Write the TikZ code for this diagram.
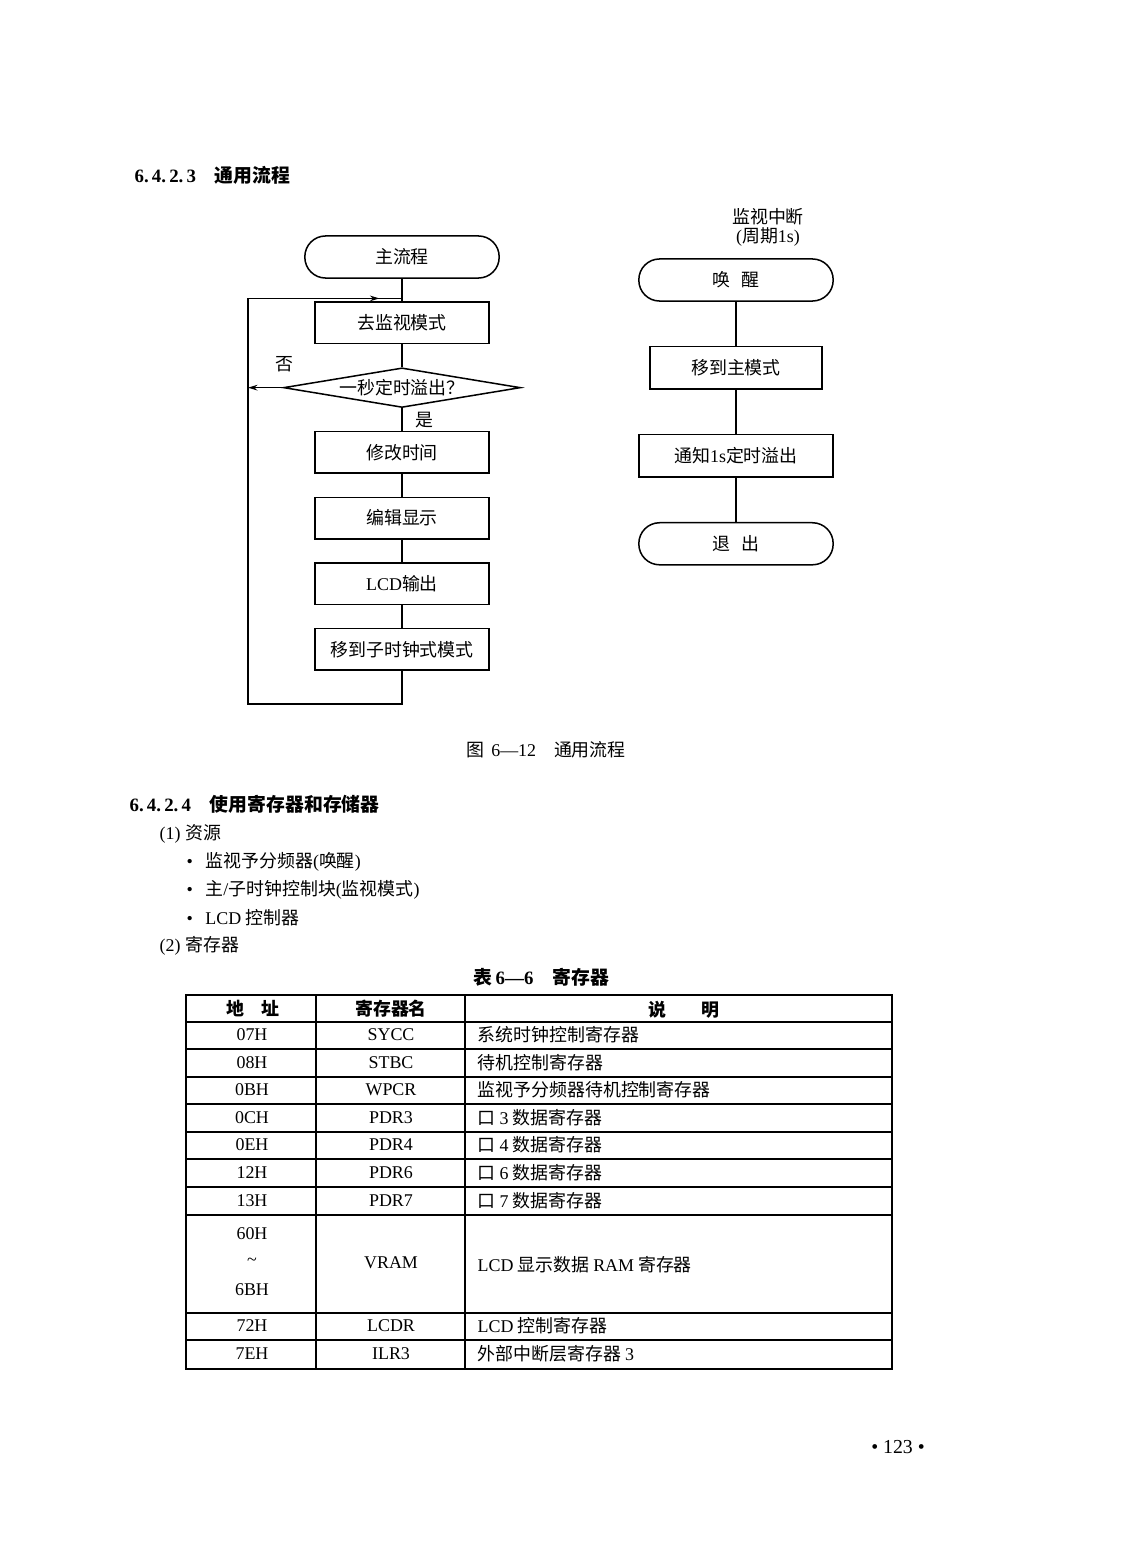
\documentclass[tikz,border=0pt]{standalone}
\usepackage{fontspec}
\setmainfont{Noto Sans CJK SC}
\newfontfamily\lat{Liberation Serif}
\usetikzlibrary{arrows.meta,positioning,shapes.geometric}
\newcommand\bodysize{\fontsize{9.5}{11}\selectfont}

\tikzset{
  stepbox/.style={draw, line width=0.8pt, minimum width=92pt, minimum height=22pt, inner sep=0pt},
  termbox/.style={draw, line width=0.8pt, rounded corners=11pt, minimum width=103pt, minimum height=22.3pt, inner sep=0pt},
  testbox/.style={draw, line width=0.8pt, diamond, aspect=6, minimum width=125.6pt, minimum height=21pt, inner sep=0pt},
  flow/.style={line width=0.8pt},
  tip/.style={flow, -{Stealth[length=5pt,width=3pt]}},
  head/.style={font=\fontsize{10}{12}\selectfont\bfseries},
  cell/.style={font=\bodysize\lat},
  rule/.style={line width=0.7pt},
}

\begin{document}
\begin{tikzpicture}[x=0.53pt, y=-0.53pt, font=\bodysize, node distance=12pt]
\useasboundingbox (0,0) rectangle (1122,1568);

% heading
\node[head, anchor=west] (sec3) at (128,175) {{\lat 6.\,4.\,2.\,3}\quad 通用流程};

% main flow
\node[termbox] (main) at (402,257) {主流程};
\node[stepbox, below=of main] (watch) {去监视模式};
\node[testbox, below=of watch] (chk) {一秒定时溢出？};
\node[stepbox, below=of chk] (fix) {修改时间};
\node[stepbox, below=of fix] (edit) {编辑显示};
\node[stepbox, below=of edit] (lcd) {{\lat LCD}输出};
\node[stepbox, below=of lcd] (sub) {移到子时钟式模式};
\node (no) at (284,364) {否};
\node (yes) at (424,420) {是};

\coordinate[above=1.6pt of watch] (join);
\coordinate[below=17.5pt of sub] (loopbot);
\coordinate (rail) at (248,0);

\draw[flow] (main) -- (watch);
\draw[flow] (watch) -- (chk);
\draw[flow] (chk) -- (fix);
\draw[flow] (fix) -- (edit);
\draw[flow] (edit) -- (lcd);
\draw[flow] (lcd) -- (sub);
\draw[tip] (sub.south) -- (loopbot) -| (rail |- join) -- ([xshift=-12pt]join);
\draw[flow] ([xshift=-13pt]join) -- (join);
\draw[tip] (chk.west) -- (rail |- chk.west);

% interrupt flow
\node[align=center, font=\fontsize{9.5}{10}\selectfont] (irq) at (768,227) {监视中断\\{\lat (}周期{\lat 1s)}};
\node[termbox] (wake) at (736,280) {唤\hspace{0.6em}醒};
\node[stepbox, minimum width=91pt, minimum height=22.3pt, below=23.4pt of wake] (tomain) {移到主模式};
\node[stepbox, minimum width=103pt, minimum height=22.6pt, below=23.4pt of tomain] (notify) {通知{\lat 1s}定时溢出};
\node[termbox, below=23.4pt of notify] (quit) {退\hspace{0.6em}出};
\draw[flow] (wake) -- (tomain);
\draw[flow] (tomain) -- (notify);
\draw[flow] (notify) -- (quit);

\node (cap) at (546,750) {图\hspace{0.4em}{\lat 6—12}\quad 通用流程};

% resources
\node[head, anchor=west] (sec4) at (123,804) {{\lat 6.\,4.\,2.\,4}\quad 使用寄存器和存储器};
\node[anchor=west] (res) at (153,834) {{\lat (1)}\hspace{0.3em}资源};
\node[anchor=west] (item1) at (180,862) {{\lat •}\hspace{0.7em}监视予分频器{\lat (}唤醒{\lat )}};
\node[anchor=west] (item2) at (180,890) {{\lat •}\hspace{0.7em}主{\lat /}子时钟控制块{\lat (}监视模式{\lat )}};
\node[anchor=west] (item3) at (180,918) {{\lat •}\hspace{0.7em}{\lat LCD} 控制器};
\node[anchor=west] (regs) at (153,946) {{\lat (2)}\hspace{0.3em}寄存器};

% table
\node[head] (tabcap) at (541,977) {表\hspace{0.2em}{\lat 6—6}\quad 寄存器};
\draw[line width=1.2pt] (186,995) rectangle (892,1369);
\foreach \yy in {1022,1049,1077,1104,1132,1159,1187,1215,1313,1340}
  \draw[rule] (186,\yy) -- (892,\yy);
\foreach \xx in {316,465}
  \draw[rule] (\xx,995) -- (\xx,1369);

\node[font=\bodysize\bfseries] (hadr) at (253,1009) {地\quad 址};
\node[font=\bodysize\bfseries] (hreg) at (391,1009) {寄存器名};
\node[font=\bodysize\bfseries] (hdsc) at (684,1010) {说\qquad 明};

\foreach \yy/\adr/\reg/\dsc [count=\i] in {
  1035/07H/SYCC/系统时钟控制寄存器,
  1063/08H/STBC/待机控制寄存器,
  1090/0BH/WPCR/监视予分频器待机控制寄存器,
  1118/0CH/PDR3/口 {\lat 3} 数据寄存器,
  1145/0EH/PDR4/口 {\lat 4} 数据寄存器,
  1173/12H/PDR6/口 {\lat 6} 数据寄存器,
  1201/13H/PDR7/口 {\lat 7} 数据寄存器,
  1326/72H/LCDR/{\lat LCD} 控制寄存器,
  1354/7EH/ILR3/外部中断层寄存器 {\lat 3}}
{
  \node[cell] (adr\i) at (252,\yy) {\adr};
  \node[cell] (reg\i) at (391,\yy) {\reg};
  \node[anchor=west] (dsc\i) at (471,\yy) {\dsc};
}
\node[cell] (vlo) at (252,1234) {60H};
\node[cell] (vto) at (252,1262) {\textasciitilde};
\node[cell] (vhi) at (252,1290) {6BH};
\node[cell] (vreg) at (391,1263) {VRAM};
\node[anchor=west] (vdsc) at (471,1265) {{\lat LCD} 显示数据 {\lat RAM} 寄存器};

\node[font=\fontsize{10.5}{12}\selectfont\lat] (page) at (898,1447) {• 123 •};
\end{tikzpicture}
\end{document}
